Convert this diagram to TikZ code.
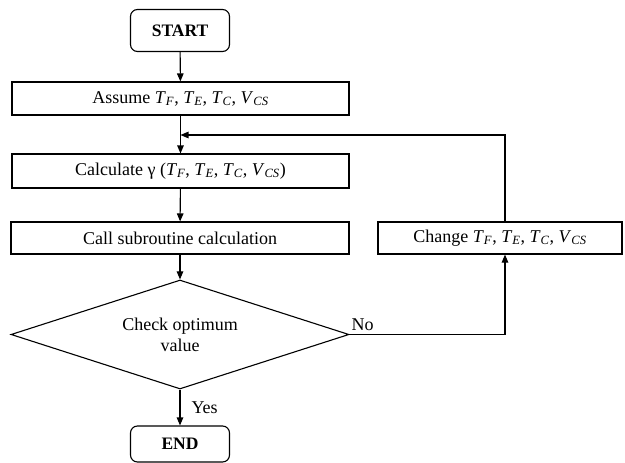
\documentclass[tikz,border=0pt]{standalone}
\usepackage{fontspec}
\setmainfont{Liberation Serif}
\usetikzlibrary{shapes.geometric,arrows.meta}
\newcommand{\vr}[2]{\textit{#1}\textsubscript{\textit{#2}}}
\begin{document}
\begin{tikzpicture}[x=1pt,y=-1pt,
  font=\fontsize{18}{21}\selectfont,
  line width=1.1pt,
  box/.style={draw,rectangle,inner sep=0pt,minimum width=#1,minimum height=33pt},
  term/.style={draw,rectangle,rounded corners=7pt,inner sep=0pt,minimum width=99pt,minimum height=42pt,font=\fontsize{17.5}{20}\selectfont\bfseries},
  decide/.style={draw,diamond,aspect=3.1,inner sep=0pt,minimum width=338pt,minimum height=109pt,align=center,font=\fontsize{18}{21}\selectfont},
  arr/.style={-{Triangle[length=8pt,width=6.5pt]}},
  lbl/.style={inner sep=0pt}]
\useasboundingbox (0,0) rectangle (625,463);
\node[term] (start) at (180,30.5) {START};
\node[box=337pt] (assume) at (180.5,98.5) {Assume \vr{T}{F}, \vr{T}{E}, \vr{T}{C}, \vr{V}{CS}};
\coordinate (merge) at (180.5,135);
\node[box=337pt,minimum height=34pt] (calc) at (180.5,171) {Calculate γ (\vr{T}{F}, \vr{T}{E}, \vr{T}{C}, \vr{V}{CS})};
\node[box=338pt,minimum height=32pt] (call) at (180,238) {Call subroutine calculation};
\node[decide] (check) at (180,334.5) {Check optimum\\value};
\node[term,minimum height=36pt] (end) at (180,444) {END};
\node[box=244pt,minimum height=32pt] (change) at (500,238) {Change \vr{T}{F}, \vr{T}{E}, \vr{T}{C}, \vr{V}{CS}};
\coordinate (c1) at (505,334.5);
\coordinate (c2) at (505,135);
\draw[arr] (start) -- (assume);
\draw[arr] (assume) -- (calc);
\draw[arr] (calc) -- (call);
\draw[arr] (call) -- (check);
\draw[arr] (check) -- node[lbl,right=11pt] {Yes} (end);
\draw[arr] (check.east) -- (c1) -- (change.south -| c1);
\draw[arr] (change.north -| c2) -- (c2) -- (merge);
\node[lbl,anchor=south west] (no) at (351,331) {No};
\end{tikzpicture}
\end{document}
